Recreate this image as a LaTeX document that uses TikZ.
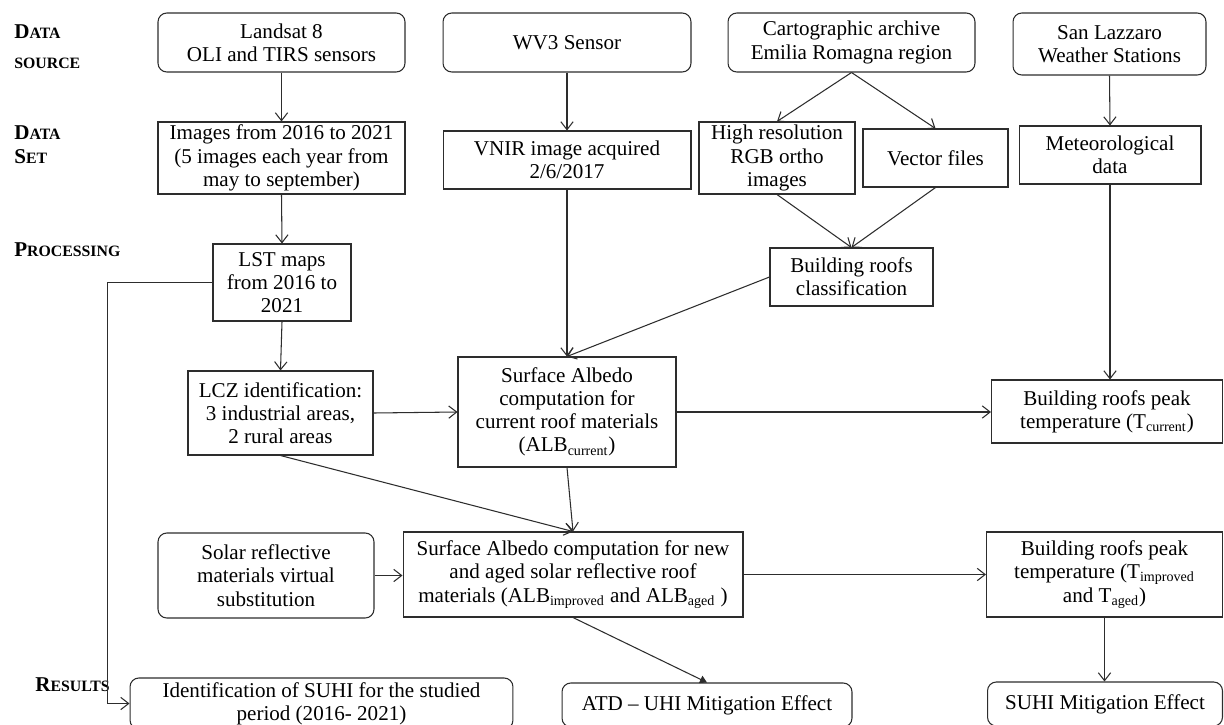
\documentclass[tikz,border=0pt]{standalone}
\usepackage{fontspec}
\setmainfont{Liberation Serif}
\usetikzlibrary{arrows.meta}
\newcommand\smcp[1]{{\fontsize{9}{10}\selectfont #1}}
\definecolor{ln}{RGB}{45,45,45}
\tikzset{
  box/.style={draw=ln, line width=0.6pt, align=center, inner sep=0pt, text=black,
    font=\fontsize{12}{13.2}\selectfont},
  rbox/.style={box, rounded corners=5pt},
  lbl/.style={anchor=west, inner sep=0pt, font=\fontsize{12}{13}\selectfont\bfseries, text=black},
  arr/.style={draw=ln, line width=0.6pt, -{Straight Barb[length=4.5pt,width=7pt]}},
  arrf/.style={draw=ln, line width=0.6pt, -{Triangle[length=4pt,width=4.5pt]}}
}
\begin{document}
\begin{tikzpicture}[x=0.02cm, y=-0.02cm]
\useasboundingbox (0,0) rectangle (1224,724);
\clip (0,0) rectangle (1224,724);
\fill[white] (0,0) rectangle (1224,724);

% side labels
\node[lbl] (l1) at (14,32) {D\smcp{ATA}};
\node[lbl] (l2) at (14,63) {\smcp{SOURCE}};
\node[lbl] (l3) at (14,133) {D\smcp{ATA}};
\node[lbl] (l4) at (14,157) {S\smcp{ET}};
\node[lbl] (l5) at (14,250) {P\smcp{ROCESSING}};
\node[lbl] (l6) at (35,685) {R\smcp{ESULTS}};

% row 1
\node[rbox, minimum width=4.94cm, minimum height=1.18cm] (landsat) at (281.5,42.5) {Landsat 8\\OLI and TIRS sensors};
\node[rbox, minimum width=4.96cm, minimum height=1.18cm] (wv3) at (567,42.5) {WV3 Sensor};
\node[rbox, minimum width=4.94cm, minimum height=1.18cm] (carto) at (851.5,42.5) {Cartographic archive\\Emilia Romagna region};
\node[rbox, minimum width=3.86cm, minimum height=1.24cm] (sanlaz) at (1109.5,44) {San Lazzaro\\Weather Stations};

% row 2
\node[box, minimum width=4.94cm, minimum height=1.44cm] (images) at (281.5,158) {Images from 2016 to 2021\\(5 images each year from\\may to september)};
\node[box, minimum width=4.96cm, minimum height=1.16cm] (vnir) at (567,160) {VNIR image acquired\\2/6/2017};
\node[box, minimum width=3.12cm, minimum height=1.44cm] (hires) at (777,158) {High resolution\\RGB ortho\\images};
\node[box, minimum width=2.9cm, minimum height=1.16cm] (vector) at (935.5,158) {Vector files};
\node[box, minimum width=3.64cm, minimum height=1.16cm] (meteo) at (1110,155) {Meteorological\\data};

% row 3
\node[box, minimum width=2.76cm, minimum height=1.54cm] (lst) at (282,282.5) {LST maps\\from 2016 to\\2021};
\node[box, minimum width=3.26cm, minimum height=1.16cm] (classif) at (851.5,277) {Building roofs\\classification};

% row 4
\node[box, minimum width=3.7cm, minimum height=1.68cm] (lcz) at (280.5,413) {LCZ identification:\\3 industrial areas,\\2 rural areas};
\node[box, minimum width=4.36cm, minimum height=2.2cm] (albcur) at (567,412) {Surface Albedo\\computation for\\current roof materials\\(ALB\textsubscript{current})};
\node[box, minimum width=4.62cm, minimum height=1.26cm] (tcur) at (1107,411.5) {Building roofs peak\\temperature (T\textsubscript{current})};

% row 5
\node[rbox, minimum width=4.32cm, minimum height=1.7cm] (solar) at (266,575.5) {Solar reflective\\materials virtual\\substitution};
\node[box, minimum width=6.8cm, minimum height=1.7cm] (albnew) at (573,574.5) {Surface Albedo computation for new\\and aged solar reflective roof\\materials (ALB\textsubscript{improved} and ALB\textsubscript{aged} )};
\node[box, minimum width=4.72cm, minimum height=1.7cm] (timp) at (1104.5,574.5) {Building roofs peak\\temperature (T\textsubscript{improved}\\and T\textsubscript{aged})};

% results
\node[rbox, minimum width=7.66cm, minimum height=1.02cm] (suhiid) at (321.5,703.5) {Identification of SUHI for the studied\\period (2016- 2021)};
\node[rbox, minimum width=5.8cm, minimum height=0.88cm] (atd) at (707,705) {ATD -- UHI Mitigation Effect};
\node[rbox, minimum width=4.7cm, minimum height=0.88cm] (suhimit) at (1105,704) {SUHI Mitigation Effect};

% connectors
\draw[arr] (landsat.south) -- (images.north);
\draw[arr] (images.south) -- (lst.north);
\draw[arr] (lst.south) -- (lcz.north);
\draw[arr] (wv3.south) -- (vnir.north);
\draw[arr] (vnir.south) -- (albcur.north);
\draw[arr] (carto.south) -- (hires.north);
\draw[arr] (carto.south) -- (vector.north);
\draw[arr] (hires.south) -- (classif.north);
\draw[arr] (vector.south) -- (classif.north);
\draw[arr] (classif.west) -- (albcur.north);
\draw[arr] (sanlaz.south) -- (meteo.north);
\draw[arr] (meteo.south) -- (meteo.south |- tcur.north);
\draw[arr] (lcz.east) -- (albcur.west);
\draw[arr] (albcur.east) -- (albcur.east -| tcur.west);
\draw[arr] (lcz.south) -- (albnew.north);
\draw[arr] (albcur.south) -- (albnew.north);
\draw[arr] (solar.east) -- (solar.east -| albnew.west);
\draw[arr] (albnew.east) -- (albnew.east -| timp.west);
\draw[arr] (timp.south) -- (timp.south |- suhimit.north);
\draw[arrf] (albnew.south) -- (atd.north);
\coordinate (lbend) at (107.5,282.5);
\draw[arr] (lst.west) -- (lbend) |- (suhiid.west);
\end{tikzpicture}
\end{document}
